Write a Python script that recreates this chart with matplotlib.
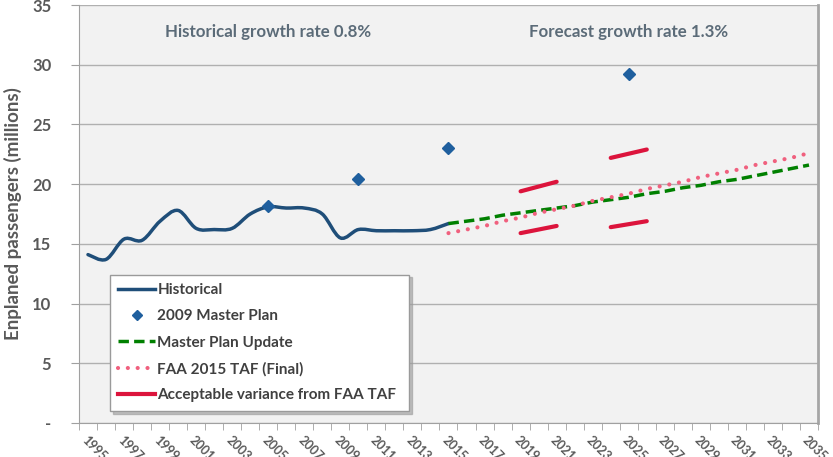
import matplotlib.pyplot as plt
import numpy as np
from matplotlib.path import Path
from matplotlib.patches import PathPatch
from matplotlib.lines import Line2D

plt.rcParams["font.family"] = ["Lato", "DejaVu Sans"]

years = list(range(1995, 2036))

hist_years = list(range(1995, 2016))
hist_vals = [14.1, 13.7, 15.4, 15.3, 16.9, 17.8, 16.3, 16.2, 16.3, 17.5, 18.1,
             18.0, 18.0, 17.5, 15.5, 16.2, 16.1, 16.1, 16.1, 16.2, 16.7]

mp2009_years = [2005, 2010, 2015, 2025]
mp2009_vals = [18.2, 20.4, 23.0, 29.2]

update_years = list(range(2015, 2036))
update_vals = [16.7, 16.9, 17.1, 17.4, 17.6, 17.8, 18.0, 18.2, 18.5, 18.7, 18.9,
               19.2, 19.4, 19.7, 19.9, 20.2, 20.4, 20.7, 21.0, 21.3, 21.6]

taf_years = list(range(2015, 2036))
taf_vals = [15.9, 16.2, 16.5, 16.9, 17.2, 17.6, 17.9, 18.2, 18.6, 18.9, 19.2,
            19.6, 19.9, 20.2, 20.6, 20.9, 21.2, 21.6, 21.9, 22.2, 22.6]

var_segments = [
    ([2019, 2021], [19.4, 20.2]),
    ([2019, 2021], [15.9, 16.5]),
    ([2024, 2026], [22.2, 22.9]),
    ([2024, 2026], [16.4, 16.9]),
]

BLUE = "#1f4e79"
DIAMOND = "#1f5f9e"
GREEN = "#008000"
PINK = "#f0607e"
RED = "#dc143c"
TXT = "#595959"
DOTS = (0, (0.01, 2.35))


def idx(y):
    return np.asarray(y, dtype=float) - years[0]


def smooth_path(xs, ys, k=1 / 6):
    # Excel-style smoothed line drawn as cubic Bezier segments
    pts = np.column_stack([xs, ys])
    verts = [pts[0]]
    codes = [Path.MOVETO]
    n = len(pts)
    for i in range(n - 1):
        p0 = pts[i - 1] if i > 0 else pts[i]
        p1, p2 = pts[i], pts[i + 1]
        p3 = pts[i + 2] if i + 2 < n else pts[i + 1]
        c1 = p1 + (p2 - p0) * k
        c2 = p2 - (p3 - p1) * k
        verts += [c1, c2, p2]
        codes += [Path.CURVE4] * 3
    return Path(verts, codes)


fig = plt.figure(figsize=(8.33, 4.57), dpi=100)
ax = fig.add_axes([0.0948, 0.0744, 0.8872, 0.9146])
ax.set_facecolor("#f2f2f2")

ax.add_patch(PathPatch(smooth_path(idx(hist_years), hist_vals), fill=False,
                       edgecolor=BLUE, lw=2.5, capstyle="round", zorder=3))
ax.plot(idx(update_years), update_vals, color=GREEN, lw=2.5,
        dashes=(3.0, 1.5), zorder=4)
ax.plot(idx(taf_years), taf_vals, color=PINK, lw=3.0, linestyle=DOTS,
        dash_capstyle="round", zorder=4)
for xs, vs in var_segments:
    ax.plot(idx(xs), vs, color=RED, lw=3.0, solid_capstyle="round", zorder=4)
ax.plot(idx(mp2009_years), mp2009_vals, linestyle="none", marker="D",
        markersize=6, color=DIAMOND, zorder=5)

ax.set_xlim(-0.5, len(years) - 0.5)
ax.set_ylim(0, 35)
ax.set_yticks(range(0, 36, 5))
ax.set_yticklabels(["-"] + [str(v) for v in range(5, 36, 5)])
ax.yaxis.grid(True, color="#b0b0b0", lw=1.0)
ax.set_axisbelow(True)

ax.set_xticks(idx(years[::2]))
ax.set_xticklabels([str(y) for y in years[::2]], rotation=-45, ha="left",
                   va="top", rotation_mode="anchor", fontsize=9,
                   fontweight="bold", color=TXT)
ax.set_xticks(np.arange(-0.5, len(years), 1), minor=True)
ax.tick_params(axis="x", which="major", length=0, pad=8)
ax.tick_params(axis="x", which="minor", length=5, color="#a0a0a0")
ax.tick_params(axis="y", length=6, color="#a0a0a0", labelsize=12,
               labelcolor=TXT, pad=14)
for lab in ax.get_yticklabels():
    lab.set_fontweight("bold")

ax.spines["top"].set_visible(False)
ax.spines["left"].set_color("#a0a0a0")
ax.spines["bottom"].set_color("#a0a0a0")
ax.spines["right"].set_color("#a6a6a6")
ax.spines["right"].set_linewidth(2.0)

ax.set_ylabel("Enplaned passengers (millions)", fontsize=13.5,
              fontweight="bold", color=TXT, labelpad=7)

ax.text(idx(2005), 32.7, "Historical growth rate 0.8%", ha="center",
        va="center", fontsize=12.2, fontweight="bold", color="#5b6b78")
ax.text(idx(2025), 32.7, "Forecast growth rate 1.3%", ha="center",
        va="center", fontsize=12.2, fontweight="bold", color="#5b6b78")

handles = [
    Line2D([], [], color=BLUE, lw=2.5),
    Line2D([], [], color=DIAMOND, marker="D", markersize=5, linestyle="none"),
    Line2D([], [], color=GREEN, lw=2.5, dashes=(3.0, 1.5)),
    Line2D([], [], color=PINK, lw=3.0, linestyle=DOTS, dash_capstyle="round"),
    Line2D([], [], color=RED, lw=3.0),
]
labels = ["Historical", "2009 Master Plan", "Master Plan Update",
          "FAA 2015 TAF (Final)", "Acceptable variance from FAA TAF"]
leg = ax.legend(handles, labels, loc="lower left",
                bbox_to_anchor=(0.042, 0.029, 0.405, 0.332), mode="expand",
                borderaxespad=0, frameon=True, fancybox=False,
                shadow={"color": "#9a9a9a", "alpha": 0.6},
                edgecolor="#9a9a9a", facecolor="white", framealpha=1,
                handlelength=2.4, handletextpad=0.15, labelspacing=0.8,
                borderpad=0.55, prop={"size": 11, "weight": "bold"})
for t in leg.get_texts():
    t.set_color("#404040")
leg.set_zorder(6)

fig.savefig("out.png", dpi=100)
